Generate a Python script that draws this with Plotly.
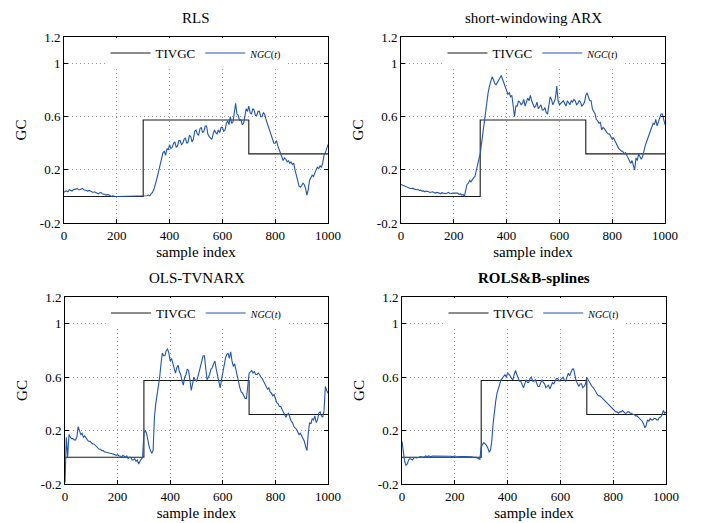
import plotly.graph_objects as go

# ---------------- data ----------------
sample_index = list(range(0, 1001, 5))

tivgc_x = [0, 300, 700, 1000]
tivgc_y = [0.0, 0.575, 0.32, 0.32]

ngc_rls = [
    0.03, 0.04, 0.04, 0.035, 0.05, 0.045, 0.04, 0.05, 0.05, 0.055, 0.06, 0.05, 0.05, 0.055, 0.06, 0.05, 0.05, 0.045, 0.04, 0.045,
    0.04, 0.035, 0.03, 0.035, 0.03, 0.025, 0.02, 0.025, 0.03, 0.02, 0.02, 0.015, 0.01, 0.015, 0.01, 0.005, 0.0, 0.005, 0.0, 0.0,
    0.0, 0.0, 0.005, 0.0, 0.0, 0.0, 0.0, 0.005, 0.005, 0.0, 0.0, 0.0, 0.0, 0.0, 0.0, 0.0, 0.0, 0.0, 0.0, 0.0,
    0.0, 0.0, 0.0, 0.005, 0.01, 0.005, 0.02, 0.03, 0.05, 0.08, 0.12, 0.16, 0.2, 0.26, 0.3, 0.33, 0.34, 0.31, 0.36, 0.35,
    0.39, 0.36, 0.37, 0.40, 0.41, 0.37, 0.38, 0.42, 0.42, 0.39, 0.40, 0.43, 0.44, 0.40, 0.41, 0.46, 0.45, 0.41, 0.43, 0.49,
    0.50, 0.47, 0.46, 0.51, 0.52, 0.48, 0.49, 0.53, 0.53, 0.47, 0.45, 0.44, 0.43, 0.47, 0.50, 0.48, 0.47, 0.50, 0.48, 0.52,
    0.52, 0.49, 0.50, 0.55, 0.57, 0.54, 0.60, 0.55, 0.56, 0.63, 0.70, 0.62, 0.61, 0.57, 0.58, 0.54, 0.55, 0.60, 0.66, 0.64,
    0.68, 0.63, 0.62, 0.66, 0.65, 0.61, 0.61, 0.64, 0.64, 0.60, 0.60, 0.63, 0.62, 0.58, 0.55, 0.53, 0.50, 0.46, 0.44, 0.40,
    0.40, 0.42, 0.38, 0.35, 0.33, 0.30, 0.27, 0.29, 0.28, 0.26, 0.27, 0.25, 0.26, 0.24, 0.25, 0.20, 0.15, 0.12, 0.08, 0.07,
    0.08, 0.10, 0.09, 0.06, 0.01, 0.05, 0.12, 0.14, 0.16, 0.15, 0.18, 0.20, 0.22, 0.21, 0.23, 0.22, 0.25, 0.31, 0.33, 0.37,
    0.39]

ngc_swarx = [
    0.09, 0.085, 0.08, 0.075, 0.07, 0.065, 0.065, 0.06, 0.06, 0.062, 0.055, 0.05, 0.05, 0.052, 0.045, 0.047, 0.04, 0.042, 0.035, 0.04,
    0.04, 0.035, 0.03, 0.032, 0.035, 0.03, 0.025, 0.03, 0.03, 0.025, 0.02, 0.028, 0.025, 0.02, 0.02, 0.025, 0.03, 0.022, 0.02, 0.025,
    0.025, 0.02, 0.02, 0.025, 0.015, 0.02, 0.01, 0.015, 0.0, 0.04, 0.09, 0.1, 0.12, 0.11, 0.13, 0.14, 0.15, 0.2, 0.24, 0.28,
    0.32, 0.4, 0.5, 0.58, 0.65, 0.72, 0.78, 0.83, 0.87, 0.9, 0.88, 0.85, 0.84, 0.86, 0.87, 0.9, 0.91, 0.88, 0.85, 0.82,
    0.79, 0.77, 0.78, 0.75, 0.76, 0.66, 0.6, 0.68, 0.68, 0.72, 0.71, 0.69, 0.70, 0.73, 0.68, 0.71, 0.74, 0.72, 0.76, 0.72,
    0.70, 0.67, 0.68, 0.71, 0.66, 0.68, 0.69, 0.65, 0.65, 0.67, 0.63, 0.62, 0.70, 0.75, 0.73, 0.69, 0.71, 0.74, 0.83, 0.72,
    0.69, 0.70, 0.71, 0.72, 0.70, 0.68, 0.72, 0.70, 0.69, 0.72, 0.71, 0.73, 0.72, 0.69, 0.70, 0.72, 0.71, 0.68, 0.69, 0.71,
    0.76, 0.78, 0.74, 0.72, 0.72, 0.66, 0.64, 0.62, 0.58, 0.57, 0.55, 0.56, 0.50, 0.52, 0.51, 0.49, 0.48, 0.47, 0.47, 0.45,
    0.43, 0.44, 0.42, 0.39, 0.37, 0.36, 0.35, 0.34, 0.34, 0.32, 0.33, 0.31, 0.30, 0.28, 0.25, 0.27, 0.23, 0.20, 0.29, 0.27,
    0.32, 0.30, 0.28, 0.30, 0.35, 0.38, 0.41, 0.44, 0.47, 0.50, 0.52, 0.55, 0.54, 0.58, 0.53, 0.56, 0.58, 0.62, 0.62, 0.58,
    0.54]

ngc_ols = [
    -0.19, 0.15, 0.0, 0.17, 0.15, 0.14, 0.14, 0.13, 0.13, 0.15, 0.23, 0.2, 0.17, 0.18, 0.15, 0.16, 0.14, 0.13, 0.12, 0.12,
    0.11, 0.10, 0.10, 0.09, 0.08, 0.07, 0.06, 0.06, 0.05, 0.05, 0.04, 0.04, 0.035, 0.035, 0.03, 0.03, 0.025, 0.02, 0.02, 0.015,
    0.02, 0.01, 0.01, 0.0, 0.015, 0.005, 0.0, 0.01, -0.01, 0.0, 0.0, -0.02, -0.02, -0.01, -0.03, -0.02, -0.05, -0.03, -0.01, 0.0,
    0.18, 0.2, 0.18, 0.12, 0.08, 0.05, 0.03, 0.05, 0.3, 0.4, 0.46, 0.55, 0.6, 0.7, 0.78, 0.76, 0.76, 0.8, 0.81, 0.78,
    0.72, 0.74, 0.70, 0.65, 0.63, 0.67, 0.69, 0.64, 0.62, 0.57, 0.54, 0.60, 0.62, 0.66, 0.65, 0.58, 0.50, 0.55, 0.6, 0.58,
    0.57, 0.6, 0.64, 0.68, 0.72, 0.76, 0.76, 0.66, 0.58, 0.6, 0.62, 0.66, 0.67, 0.7, 0.72, 0.66, 0.62, 0.56, 0.52, 0.58,
    0.63, 0.70, 0.74, 0.77, 0.78, 0.74, 0.79, 0.72, 0.68, 0.70, 0.65, 0.60, 0.56, 0.52, 0.49, 0.48, 0.46, 0.44, 0.44, 0.52,
    0.63, 0.64, 0.65, 0.63, 0.64, 0.62, 0.62, 0.63, 0.62, 0.60, 0.59, 0.57, 0.55, 0.53, 0.51, 0.52, 0.49, 0.48, 0.46, 0.47,
    0.43, 0.41, 0.40, 0.38, 0.38, 0.36, 0.33, 0.31, 0.30, 0.32, 0.33, 0.30, 0.27, 0.26, 0.23, 0.22, 0.21, 0.19, 0.17, 0.18,
    0.16, 0.14, 0.12, 0.08, 0.05, 0.18, 0.26, 0.25, 0.29, 0.28, 0.31, 0.26, 0.28, 0.33, 0.34, 0.31, 0.30, 0.35, 0.53, 0.50,
    0.48]

ngc_rols = [
    0.12, 0.02, -0.03, -0.06, -0.05, -0.02, -0.01, -0.015, -0.02, -0.005, 0.0, -0.005, -0.005, 0.0, 0.005, 0.0, 0.0, 0.005, 0.01, 0.005,
    0.01, 0.008, 0.005, 0.01, 0.01, 0.012, 0.012, 0.01, 0.008, 0.01, 0.01, 0.008, 0.012, 0.01, 0.008, 0.01, 0.01, 0.008, 0.005, 0.008,
    0.01, 0.008, 0.008, 0.005, 0.005, 0.008, 0.008, 0.006, 0.005, 0.004, 0.003, 0.004, 0.005, 0.003, 0.0, 0.002, 0.0, -0.005, -0.01, -0.015,
    0.08, 0.1, 0.11, 0.1, 0.09, 0.07, 0.04, 0.05, 0.12, 0.25, 0.35, 0.42, 0.48, 0.52, 0.55, 0.58, 0.59, 0.61, 0.62, 0.60,
    0.63, 0.62, 0.61, 0.59, 0.58, 0.62, 0.65, 0.62, 0.60, 0.57, 0.57, 0.55, 0.52, 0.55, 0.58, 0.56, 0.56, 0.59, 0.60, 0.57,
    0.57, 0.58, 0.55, 0.53, 0.53, 0.55, 0.58, 0.56, 0.55, 0.52, 0.53, 0.54, 0.51, 0.54, 0.56, 0.55, 0.57, 0.59, 0.59, 0.57,
    0.58, 0.59, 0.60, 0.58, 0.57, 0.60, 0.63, 0.61, 0.64, 0.66, 0.66, 0.60, 0.57, 0.55, 0.53, 0.55, 0.55, 0.52, 0.53, 0.55,
    0.60, 0.58, 0.56, 0.55, 0.53, 0.52, 0.50, 0.48, 0.47, 0.46, 0.46, 0.45, 0.44, 0.43, 0.42, 0.41, 0.40, 0.39, 0.38, 0.37,
    0.36, 0.35, 0.34, 0.34, 0.33, 0.34, 0.34, 0.35, 0.34, 0.33, 0.33, 0.34, 0.34, 0.33, 0.33, 0.32, 0.32, 0.31, 0.31, 0.30,
    0.29, 0.28, 0.27, 0.25, 0.22, 0.24, 0.28, 0.27, 0.29, 0.28, 0.28, 0.29, 0.29, 0.28, 0.28, 0.30, 0.30, 0.32, 0.35, 0.33,
    0.34]

panel_titles = ["RLS", "short-windowing ARX", "OLS-TVNARX", "<b>ROLS&B-splines</b>"]
panel_series = [ngc_rls, ngc_swarx, ngc_ols, ngc_rols]

y_tickvals = [-0.2, 0.2, 0.6, 1, 1.2]
y_ticktext = ["-0.2", "0.2", "0.6", "1", "1.2"]
x_tickvals = [0, 200, 400, 600, 800, 1000]
x_ticktext = ["0", "200", "400", "600", "800", "1000"]

# ---------------- layout ----------------
W, H = 710, 523
FONT = "Liberation Serif"
BLUE = "#2156ad"

# pixel boxes: (left, right, top, bottom)
boxes = [(64, 328, 37, 223), (401, 665, 37, 223),
         (65, 328, 297, 484), (402, 666, 297, 484)]

fig = go.Figure()
layout = dict(
    width=W, height=H, margin=dict(l=0, r=0, t=0, b=0, autoexpand=False),
    paper_bgcolor="white", plot_bgcolor="white",
    font=dict(family=FONT, size=13, color="black"),
    showlegend=True, annotations=[],
)

for i, (series, title) in enumerate(zip(panel_series, panel_titles)):
    k = "" if i == 0 else str(i + 1)
    l, r, t, b = boxes[i]
    xd = [l / W, r / W]
    yd = [1 - b / H, 1 - t / H]
    leg = "legend" + k
    fig.add_trace(go.Scatter(
        x=tivgc_x, y=tivgc_y, mode="lines", line=dict(color="#1a1a1a", width=1.1, shape="hv"),
        name="TIVGC", xaxis="x" + k, yaxis="y" + k, legend=leg))
    fig.add_trace(go.Scatter(
        x=sample_index, y=series, mode="lines", line=dict(color=BLUE, width=1.1),
        name='<span style="font-size:10px"><i>NGC</i>(<i>t</i>)</span>',
        xaxis="x" + k, yaxis="y" + k, legend=leg))
    axcommon = dict(showline=True, linecolor="black", linewidth=1, mirror="allticks",
                    ticks="inside", ticklen=4, tickcolor="black", automargin=False,
                    showgrid=True, gridcolor="#9a9a9a", gridwidth=1, griddash="1px,3px",
                    zeroline=False, tickfont=dict(family=FONT, size=13, color="black"))
    layout["xaxis" + k] = dict(
        domain=xd, range=[0, 1000], tickvals=x_tickvals, ticktext=x_ticktext,
        anchor="y" + k,
        title=dict(text="sample index", font=dict(family=FONT, size=15), standoff=4),
        **axcommon)
    layout["yaxis" + k] = dict(
        domain=yd, range=[-0.2, 1.2], tickvals=y_tickvals, ticktext=y_ticktext,
        anchor="x" + k,
        title=dict(text="GC", font=dict(family=FONT, size=15), standoff=9),
        **axcommon)
    layout[leg] = dict(
        x=(l + r) / 2 / W, y=1 - (t + 1) / H, xanchor="center", yanchor="top",
        orientation="h", bgcolor="white", borderwidth=0,
        font=dict(family=FONT, size=13), itemwidth=40,
        tracegroupgap=0)
    layout["annotations"].append(dict(
        text=title, x=(l + r) / 2 / W, y=1 - (t - 19) / H, xref="paper", yref="paper",
        showarrow=False, xanchor="center", yanchor="middle",
        font=dict(family=FONT, size=15, color="black")))

fig.update_layout(**layout)
fig.write_html("out.html", config={"displayModeBar": False},
               post_script="document.body.style.margin='0px';")
